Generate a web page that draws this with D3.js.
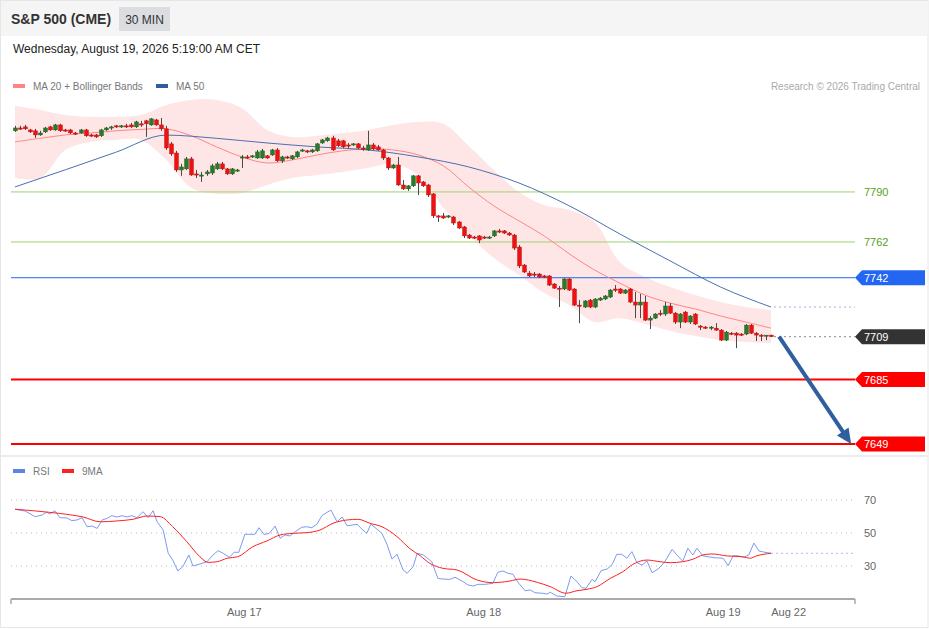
<!DOCTYPE html>
<html>
<head>
<meta charset="utf-8">
<script src="https://cdn.jsdelivr.net/npm/d3@7"></script>
<style>
body{margin:0;background:#fff;font-family:"Liberation Sans",Arial,sans-serif;}
svg{display:block;}
</style>
</head>
<body>
<script>
///////////////////   Data   /////////////////

// 30 min bars, [open, high, low, close]
var ohlc = [
[7824.2,7827.0,7823.6,7825.8],[7825.8,7827.0,7824.7,7825.6],[7826.4,7827.5,7824.7,7825.3],[7824.7,7825.3,7823.0,7823.6],
[7824.2,7825.3,7820.2,7821.9],[7821.9,7824.2,7821.4,7823.0],[7823.6,7826.4,7823.0,7825.8],[7826.4,7827.0,7824.2,7824.7],
[7824.7,7828.1,7824.2,7827.5],[7827.5,7828.1,7823.6,7824.2],[7824.7,7825.3,7823.6,7824.2],[7824.7,7825.3,7822.5,7823.0],
[7823.0,7823.6,7821.9,7822.5],[7823.0,7825.3,7822.5,7824.7],[7824.7,7825.3,7820.8,7821.4],[7821.9,7822.5,7820.8,7821.4],
[7821.9,7822.5,7820.2,7820.8],[7821.4,7825.3,7820.8,7824.7],[7824.7,7826.4,7824.2,7825.8],[7825.8,7827.0,7824.7,7826.4],
[7827.0,7827.5,7825.8,7826.4],[7826.4,7827.5,7825.8,7827.0],[7827.0,7828.1,7825.8,7826.4],[7827.5,7828.6,7825.8,7826.4],
[7826.4,7829.8,7825.8,7829.2],[7828.1,7829.8,7826.4,7827.5],[7829.8,7830.3,7820.8,7828.1],[7827.5,7831.4,7827.0,7830.9],
[7830.3,7830.9,7827.0,7827.5],[7827.5,7831.4,7824.2,7825.3],[7825.3,7827.0,7813.5,7814.6],[7816.9,7818.0,7810.2,7811.3],
[7811.8,7813.0,7801.2,7802.3],[7802.3,7805.7,7799.0,7804.0],[7802.9,7809.6,7802.3,7808.5],[7808.5,7809.6,7799.0,7799.5],
[7800.1,7802.3,7797.8,7799.5],[7799.0,7801.2,7795.6,7799.5],[7800.1,7802.3,7799.0,7801.2],[7800.6,7805.7,7799.5,7804.6],
[7802.9,7806.8,7802.3,7805.7],[7805.7,7806.8,7802.3,7802.9],[7802.9,7803.4,7799.5,7800.1],[7800.1,7803.4,7799.5,7802.9],
[7801.8,7802.9,7801.2,7802.3],[7809.0,7810.7,7803.4,7809.6],[7809.6,7810.7,7808.5,7809.0],[7809.6,7810.7,7809.0,7810.2],
[7809.0,7813.5,7808.5,7812.4],[7809.0,7814.1,7808.5,7813.0],[7810.2,7810.7,7808.5,7809.0],[7810.7,7814.1,7810.2,7813.5],
[7813.5,7814.6,7806.8,7807.4],[7807.4,7810.2,7806.2,7809.6],[7809.6,7810.2,7808.5,7809.0],[7808.5,7810.7,7807.9,7810.2],
[7809.6,7813.0,7809.0,7812.4],[7813.0,7814.1,7812.4,7813.5],[7813.0,7813.5,7811.8,7812.4],[7812.4,7814.1,7811.8,7813.5],
[7813.0,7817.4,7812.4,7816.9],[7817.4,7819.7,7816.9,7819.1],[7818.6,7820.8,7818.0,7820.2],[7820.2,7821.4,7813.0,7813.5],
[7818.6,7819.7,7815.2,7815.8],[7818.6,7819.1,7814.6,7815.2],[7816.3,7817.4,7814.6,7815.8],[7816.3,7817.4,7815.8,7816.9],
[7816.9,7817.4,7814.1,7814.6],[7814.6,7815.8,7813.0,7814.1],[7813.5,7824.2,7813.0,7816.3],[7816.3,7817.4,7813.5,7814.1],
[7815.2,7816.3,7813.0,7813.5],[7813.5,7814.1,7807.9,7809.0],[7809.0,7809.6,7802.3,7803.4],[7803.4,7805.7,7802.9,7805.1],
[7805.1,7809.6,7793.4,7793.9],[7793.9,7796.7,7791.1,7791.7],[7791.7,7793.9,7790.6,7793.4],[7793.4,7799.5,7792.8,7799.0],
[7799.0,7799.5,7788.3,7795.0],[7795.6,7796.2,7792.8,7793.4],[7793.9,7794.5,7787.2,7788.3],[7788.9,7789.4,7775.4,7776.6],
[7776.6,7777.1,7773.2,7776.0],[7776.6,7778.2,7774.9,7775.4],[7776.0,7777.1,7775.4,7776.6],[7776.0,7776.6,7771.5,7772.6],
[7773.2,7773.8,7769.3,7769.8],[7770.4,7771.0,7764.2,7765.4],[7765.9,7766.5,7763.7,7764.2],[7764.8,7765.4,7763.7,7764.2],
[7765.4,7765.9,7761.4,7763.1],[7764.8,7765.4,7763.7,7764.2],[7764.2,7765.4,7763.7,7764.8],[7765.4,7768.7,7764.8,7768.2],
[7768.2,7769.3,7767.0,7767.6],[7768.2,7768.7,7766.5,7767.0],[7767.0,7767.6,7765.4,7765.9],[7765.9,7766.5,7757.5,7758.6],
[7759.2,7760.3,7747.4,7748.6],[7749.1,7749.7,7744.6,7745.2],[7744.6,7745.8,7742.4,7743.0],[7744.1,7745.2,7742.4,7743.5],
[7744.1,7744.6,7741.8,7742.4],[7743.0,7743.5,7741.8,7742.4],[7743.0,7743.5,7737.4,7737.9],[7738.5,7739.0,7735.7,7736.2],
[7736.2,7737.4,7725.6,7735.7],[7735.7,7741.8,7735.1,7741.3],[7741.3,7741.8,7734.6,7735.1],[7735.7,7736.2,7726.2,7726.7],
[7726.7,7729.5,7716.6,7726.2],[7725.6,7729.5,7725.0,7729.0],[7729.5,7730.1,7725.0,7725.6],[7725.6,7730.6,7725.0,7730.1],
[7729.5,7731.2,7729.0,7730.6],[7730.1,7732.3,7729.5,7731.8],[7731.2,7735.7,7730.6,7735.1],[7735.7,7737.9,7734.0,7735.1],
[7735.7,7736.2,7732.9,7733.4],[7733.4,7735.7,7732.9,7735.1],[7735.7,7736.2,7727.8,7728.4],[7728.4,7734.0,7719.4,7726.7],
[7726.7,7732.9,7719.4,7728.4],[7728.4,7731.8,7717.8,7718.3],[7718.3,7720.6,7713.3,7719.4],[7719.4,7722.2,7718.9,7721.7],
[7722.2,7723.9,7720.6,7721.7],[7721.7,7728.4,7720.6,7726.2],[7726.2,7727.8,7721.7,7722.2],[7722.2,7722.8,7716.1,7717.2],
[7717.2,7722.2,7713.8,7721.7],[7722.8,7723.4,7716.6,7717.2],[7717.2,7721.1,7716.1,7720.6],[7721.7,7722.2,7715.5,7716.1],
[7715.0,7715.5,7712.7,7714.4],[7714.4,7715.0,7713.3,7713.8],[7713.8,7715.0,7712.7,7714.4],[7713.8,7716.6,7712.2,7712.7],
[7712.7,7713.3,7706.6,7707.1],[7707.1,7712.2,7706.6,7711.6],[7711.0,7711.6,7709.9,7710.5],[7711.0,7711.6,7702.6,7709.9],
[7710.5,7711.0,7709.4,7709.9],[7710.5,7716.1,7709.9,7715.5],[7715.5,7716.1,7710.5,7711.0],[7711.0,7711.6,7706.6,7709.9],
[7709.9,7710.5,7706.6,7709.4],[7709.4,7709.9,7707.1,7709.9],[7709.9,7710.2,7708.8,7709.0]
];

// MA 20 and Bollinger bands, read every 5 bars
var bandStep = 5;
var ma20 = [7818.0,7820.0,7821.9,7823.0,7824.2,7825.0,7825.3,7821.4,7815.2,7809.6,7806.2,7807.9,7810.7,7813.0,7814.1,7813.5,
            7810.7,7804.6,7792.8,7782.2,7773.8,7765.4,7755.3,7746.3,7739.0,7732.3,7727.8,7724.5,7720.6,7717.2,7713.8];
var bbUpper = [7838.2,7835.9,7833.1,7832.0,7832.0,7833.1,7838.7,7841.5,7841.5,7837.0,7824.7,7820.8,7821.4,7823.0,7824.7,7827.5,
               7829.2,7828.1,7815.8,7802.3,7790.0,7782.7,7779.9,7773.2,7750.8,7742.4,7736.8,7732.3,7728.4,7725.6,7723.9];
var bbLower = [7797.8,7797.8,7813.5,7818.0,7819.1,7819.1,7807.9,7792.2,7788.9,7789.4,7793.9,7797.8,7799.5,7801.2,7803.4,7805.7,
               7799.5,7781.0,7765.9,7753.0,7743.5,7733.4,7726.7,7717.2,7719.4,7716.1,7712.2,7709.4,7707.1,7706.0,7705.4];

// MA 50, read every 10 bars
var ma50Step = 10;
var ma50 = [7792.8,7802.4,7812.2,7821.8,7820.0,7817.4,7815.2,7813.5,7809.6,7804.0,7795.0,7782.2,7766.5,7751.4,7736.8,7725.6];

// key levels
var levelValues = [7790, 7762, 7742, 7709, 7685, 7649];
var levelKinds  = ["res", "res", "pivot", "last", "sup", "sup"];

// target arrow [bar, price]
var arrowFrom = [151.6, 7709],
    arrowTo   = [165.9, 7649];

// RSI [bar, value]
var rsi = [[0,64.4],[2,63.3],[4,59.9],[5.4,60.9],[6.3,62.7],[6.9,61.5],[7.9,63.5],[8.9,59.3],[10.3,59.1],[11.3,57.5],[12.3,57.9],
[13.3,59.3],[14.3,53.8],[15.3,54.2],[16.3,52.8],[17.3,57.9],[18.3,58.9],[19.2,60.5],[20.2,59.7],[21.2,60.5],[22.2,59.7],[23.2,60.5],
[24.2,59.3],[25.4,62.9],[26.4,59.3],[27.4,63.5],[28.2,56.8],[29.4,51.8],[30.4,37.7],[31.3,33.6],[32.3,27.0],[33.3,29.6],[34.5,36.7],
[35.3,30.0],[36.7,31.2],[38.1,32.6],[39.3,36.7],[40.3,39.3],[41.3,37.7],[42.5,35.3],[43.5,38.3],[44.4,38.3],[45.6,49.2],[46.6,49.2],
[47.6,49.2],[48.4,53.2],[49.4,49.2],[50.4,49.6],[51.6,54.2],[52.6,46.8],[53.6,48.8],[54.6,48.2],[55.6,50.8],[56.9,53.5],[57.9,53.8],
[58.9,53.2],[59.9,55.3],[60.9,60.5],[61.9,62.5],[62.7,63.9],[63.9,56.8],[64.9,59.7],[65.9,54.4],[66.9,54.8],[67.9,55.3],[68.8,52.4],
[69.8,49.8],[70.6,55.3],[71.8,52.4],[72.8,49.8],[73.8,43.2],[74.8,34.2],[75.8,37.1],[77.0,27.6],[77.8,25.6],[79.0,29.6],[79.8,37.7],
[81.0,36.7],[82.7,32.6],[83.9,22.5],[84.9,22.1],[86.3,21.9],[87.3,23.2],[88.7,20.9],[89.9,18.5],[90.9,17.9],[91.9,18.9],[93.3,18.9],
[94.8,19.5],[95.8,26.2],[96.8,27.0],[97.8,25.6],[98.8,25.0],[99.8,20.1],[101.2,15.0],[102.2,15.5],[103.2,13.8],[104.6,13.5],
[105.6,13.0],[106.2,14.1],[107.5,11.8],[109.1,11.4],[110.3,23.9],[111.5,20.5],[112.5,16.8],[113.3,16.5],[114.5,21.9],[115.1,20.5],
[116.3,27.2],[117.5,28.2],[118.5,31.0],[119.4,37.1],[120.4,37.1],[121.4,34.7],[122.4,38.7],[123.4,32.0],[124.4,30.6],[125.4,33.0],
[126.4,25.9],[127.6,28.2],[128.8,32.0],[130.4,40.1],[131.3,36.7],[132.5,33.0],[133.5,40.7],[134.5,36.7],[135.3,40.7],[136.5,36.2],
[137.5,35.6],[138.9,35.0],[140.5,34.7],[141.5,30.2],[142.5,36.2],[143.5,36.1],[144.6,35.3],[145.6,36.7],[146.6,43.9],[147.6,39.1],
[148.8,38.3],[150,37.7]];

// 9 period MA of RSI [bar, value]
var rsiMa = [[0,64.4],[3.6,63.5],[6.9,62.5],[10.3,61.3],[13.5,59.7],[16.9,56.8],[20.2,57.3],[23.4,58.3],[26.2,60.3],[28.8,59.9],
[31.3,53.8],[34.1,44.7],[36.7,35.6],[38.3,32.2],[40.1,32.6],[42.1,34.7],[44.2,35.6],[47.2,41.7],[50,45.2],[52.6,48.8],[55.2,49.8],
[57.9,50.2],[60.5,51.8],[63.1,55.9],[65.9,57.9],[68.1,58.3],[70.4,55.9],[72.8,53.8],[75.8,47.8],[78.4,40.4],[80.4,36.2],[82.3,31.6],
[84.9,28.6],[87.7,27.6],[91.7,21.5],[94.8,19.9],[98.2,20.9],[100.2,22.1],[103.6,20.1],[106.2,17.5],[109.3,13.5],[111.5,15.0],
[113.5,15.9],[115.5,17.5],[118.1,22.5],[120.6,26.5],[122.6,31.0],[125.4,33.6],[128,32.6],[130,32.0],[132.5,32.6],[134.5,34.1],
[136.5,36.7],[138.3,37.3],[141.3,36.1],[144.4,35.6],[145.8,34.7],[147.2,36.2],[150,37.7]];

var rsiGrid = [70, 50, 30];

var xTickLabels = ["Aug 17", "Aug 18", "Aug 19", "Aug 22"],
    xTickBars   = [45.5, 93, 140.5, 153.5];


///////////////////   Layout   /////////////////

var W = 929, H = 629,
    plotLeft = 11, plotRight = 855,
    priceTop = 62, priceBottom = 452,
    rsiTop = 483.5, rsiBottom = 599,
    badgeRight = 925, labelX = 864;

var colors = {
	"up": "#2b7a2b",
	"down": "#ee1111",
	"wick": "#4a4a4a",
	"band": "#ffe6e6",
	"ma20": "#ff8585",
	"ma50": "#4a70b0",
	"res": "#9bd36e",
	"resText": "#5aa020",
	"pivot": "#2266f2",
	"last": "#333333",
	"sup": "#ff0000",
	"arrow": "#2f5f9f",
	"rsi": "#7b9bef",
	"rsiMa": "#ff2020",
	"axis": "#aaaaaa",
	"text": "#666666"
};

var x = d3.scaleLinear().domain([0, ohlc.length - 1]).range([15, 771]);
var y = d3.scaleLinear().domain([7644.5, 7862.7]).range([priceBottom, priceTop]);
var yr = d3.scaleLinear().domain([10, 80]).range([rsiBottom, rsiTop]);

var svg = d3.select("body").append("svg")
	.attr("width", W)
	.attr("height", H)
	.style("font-family", "'Liberation Sans', Arial, sans-serif");

svg.append("defs").append("clipPath").attr("id", "priceClip")
	.append("rect")
	.attr("x", plotLeft).attr("y", priceTop)
	.attr("width", plotRight - plotLeft).attr("height", priceBottom - priceTop);


////////////////	Frame and header      //////////////

svg.append("rect")
	.attr("x", 0.5).attr("y", 0.5).attr("width", W - 1.5).attr("height", H - 2)
	.attr("fill", "#fff").attr("stroke", "#e6e6e6");

svg.append("rect")
	.attr("x", 1).attr("y", 1).attr("width", W - 2.5).attr("height", 35)
	.attr("fill", "#f5f5f5");

svg.append("text")
	.attr("x", 11).attr("y", 24)
	.attr("font-size", 14).attr("font-weight", "bold").attr("fill", "#333")
	.text("S&P 500 (CME)");

svg.append("rect")
	.attr("x", 119).attr("y", 7).attr("width", 51).attr("height", 24)
	.attr("fill", "#dcdde1");
svg.append("text")
	.attr("x", 144.5).attr("y", 23.5).attr("text-anchor", "middle")
	.attr("font-size", 12).attr("fill", "#333")
	.text("30 MIN");

svg.append("text")
	.attr("x", 13).attr("y", 53)
	.attr("font-size", 12).attr("fill", "#222")
	.text("Wednesday, August 19, 2026 5:19:00 AM CET");

// legend
legend(13, 86, colors.ma20, "MA 20 + Bollinger Bands");
legend(156, 86, "#2f5c9e", "MA 50");

svg.append("text")
	.attr("x", 920).attr("y", 89.5).attr("text-anchor", "end")
	.attr("font-size", 10).attr("fill", "#aaa")
	.text("Research \u00a9 2026 Trading Central");

// panel separator
svg.append("rect")
	.attr("x", 1).attr("y", 455).attr("width", W - 2.5).attr("height", 2)
	.attr("fill", "#ececec");


////////////////	Price panel      //////////////

var price = svg.append("g").attr("clip-path", "url(#priceClip)");

var bandIdx = d3.range(ma20.length);

price.append("path")
	.datum(bandIdx)
	.attr("fill", colors.band)
	.attr("d", d3.area()
		.curve(d3.curveCatmullRom)
		.x(function(k) { return x(k * bandStep); })
		.y0(function(k) { return y(bbLower[k]); })
		.y1(function(k) { return y(bbUpper[k]); }));

// level lines
levelValues.forEach(function(v, i) {
	var kind = levelKinds[i];
	if (kind == "last") {
		price.append("line")
			.attr("x1", x(ohlc.length - 1) + 3).attr("x2", plotRight)
			.attr("y1", y(v)).attr("y2", y(v))
			.attr("stroke", "#888").attr("stroke-dasharray", "2,3");
		return;
	}
	price.append("line")
		.attr("x1", plotLeft).attr("x2", plotRight)
		.attr("y1", y(v)).attr("y2", y(v))
		.attr("stroke", colors[kind])
		.attr("stroke-width", kind == "sup" ? 2 : 1);
});

price.append("path")
	.datum(bandIdx)
	.attr("fill", "none").attr("stroke", colors.ma20).attr("stroke-width", 1)
	.attr("d", d3.line()
		.curve(d3.curveCatmullRom)
		.x(function(k) { return x(k * bandStep); })
		.y(function(k) { return y(ma20[k]); }));

price.append("path")
	.datum(d3.range(ma50.length))
	.attr("fill", "none").attr("stroke", colors.ma50).attr("stroke-width", 1)
	.attr("d", d3.line()
		.curve(d3.curveMonotoneX)
		.x(function(k) { return x(k * ma50Step); })
		.y(function(k) { return y(ma50[k]); }));

// MA 50 extension
price.append("line")
	.attr("x1", x(ohlc.length - 1) + 3).attr("x2", plotRight)
	.attr("y1", y(ma50[ma50.length - 1])).attr("y2", y(ma50[ma50.length - 1]))
	.attr("stroke", "#9fb4d8").attr("stroke-dasharray", "2,3");

// candles
var candles = price.selectAll("g.candle")
	.data(ohlc)
	.enter()
	.append("g")
	.attr("class", "candle");

candles.append("line")
	.attr("x1", function(d, i) { return Math.round(x(i)) + 0.5; })
	.attr("x2", function(d, i) { return Math.round(x(i)) + 0.5; })
	.attr("y1", function(d) { return y(d[1]); })
	.attr("y2", function(d) { return y(d[2]); })
	.attr("stroke", colors.wick).attr("stroke-width", 1);

candles.append("rect")
	.attr("x", function(d, i) { return Math.round(x(i)) - 1.5; })
	.attr("width", 4)
	.attr("y", function(d) { return y(Math.max(d[0], d[3])); })
	.attr("height", function(d) { return Math.max(1.2, Math.abs(y(d[0]) - y(d[3]))); })
	.attr("fill", function(d) { return d[3] >= d[0] ? colors.up : colors.down; })
	.attr("stroke", function(d) { return d[3] >= d[0] ? "#1d5a1d" : "#b80d0d"; })
	.attr("stroke-width", 0.4);

// arrow
var ax1 = x(arrowFrom[0]), ay1 = y(arrowFrom[1]),
    ax2 = x(arrowTo[0]), ay2 = y(arrowTo[1]);
var ang = Math.atan2(ay2 - ay1, ax2 - ax1),
    headLen = 15, headHalf = 7;
var bx = ax2 - headLen * Math.cos(ang), by = ay2 - headLen * Math.sin(ang);

svg.append("line")
	.attr("x1", ax1).attr("y1", ay1)
	.attr("x2", bx + 2 * Math.cos(ang)).attr("y2", by + 2 * Math.sin(ang))
	.attr("stroke", colors.arrow).attr("stroke-width", 4);
svg.append("path")
	.attr("fill", colors.arrow)
	.attr("d", "M" + ax2 + "," + ay2 +
		"L" + (bx + headHalf * Math.sin(ang)) + "," + (by - headHalf * Math.cos(ang)) +
		"L" + (bx - headHalf * Math.sin(ang)) + "," + (by + headHalf * Math.cos(ang)) + "Z");

// level labels and badges
levelValues.forEach(function(v, i) {
	var kind = levelKinds[i], yy = y(v);
	if (kind == "res") {
		svg.append("text")
			.attr("x", labelX).attr("y", yy + 4)
			.attr("font-size", 11).attr("fill", colors.resText)
			.text(v);
		return;
	}
	svg.append("path")
		.attr("fill", colors[kind])
		.attr("d", "M" + plotRight + "," + yy +
			"L" + (plotRight + 7) + "," + (yy - 7.5) +
			"L" + badgeRight + "," + (yy - 7.5) +
			"L" + badgeRight + "," + (yy + 7.5) +
			"L" + (plotRight + 7) + "," + (yy + 7.5) + "Z");
	svg.append("text")
		.attr("x", labelX).attr("y", yy + 4)
		.attr("font-size", 11).attr("fill", "#fff")
		.text(v);
});


////////////////	RSI panel      //////////////

legend(13, 471, "#5b86e5", "RSI");
legend(62, 471, colors.rsiMa, "9MA");

rsiGrid.forEach(function(v) {
	svg.append("line")
		.attr("x1", plotLeft).attr("x2", plotRight)
		.attr("y1", yr(v)).attr("y2", yr(v))
		.attr("stroke", "#bbb").attr("stroke-dasharray", "1,4");
	svg.append("text")
		.attr("x", labelX).attr("y", yr(v) + 4)
		.attr("font-size", 11).attr("fill", colors.text)
		.text(v);
});

var lastRsi = rsi[rsi.length - 1][1];
svg.append("line")
	.attr("x1", x(rsi[rsi.length - 1][0])).attr("x2", plotRight)
	.attr("y1", yr(lastRsi)).attr("y2", yr(lastRsi))
	.attr("stroke", "#a9bdf5").attr("stroke-dasharray", "2,3");

svg.append("path")
	.datum(rsi)
	.attr("fill", "none").attr("stroke", colors.rsi).attr("stroke-width", 1)
	.attr("d", d3.line()
		.x(function(d) { return x(d[0]); })
		.y(function(d) { return yr(d[1]); }));

svg.append("path")
	.datum(rsiMa)
	.attr("fill", "none").attr("stroke", colors.rsiMa).attr("stroke-width", 1)
	.attr("d", d3.line()
		.curve(d3.curveMonotoneX)
		.x(function(d) { return x(d[0]); })
		.y(function(d) { return yr(d[1]); }));

// time axis
svg.append("line")
	.attr("x1", plotLeft).attr("x2", plotRight)
	.attr("y1", rsiBottom).attr("y2", rsiBottom)
	.attr("stroke", colors.axis).attr("stroke-width", 2);
[plotLeft, plotRight].forEach(function(px) {
	svg.append("line")
		.attr("x1", px).attr("x2", px)
		.attr("y1", rsiBottom).attr("y2", rsiBottom + 5)
		.attr("stroke", colors.axis).attr("stroke-width", 1.5);
});

svg.selectAll("text.xtick")
	.data(xTickLabels)
	.enter()
	.append("text")
	.attr("class", "xtick")
	.attr("x", function(d, i) { return x(xTickBars[i]); })
	.attr("y", 615.5)
	.attr("text-anchor", "middle")
	.attr("font-size", 11).attr("fill", colors.text)
	.text(function(d) { return d; });


////////////////	Helper functions    //////////////

// small colour swatch plus label
function legend(px, py, color, label) {
	svg.append("rect")
		.attr("x", px).attr("y", py - 2).attr("width", 12).attr("height", 4)
		.attr("fill", color);
	svg.append("text")
		.attr("x", px + 20).attr("y", py + 3.5)
		.attr("font-size", 10).attr("fill", "#777")
		.text(label);
}
</script>
</body>
</html>
